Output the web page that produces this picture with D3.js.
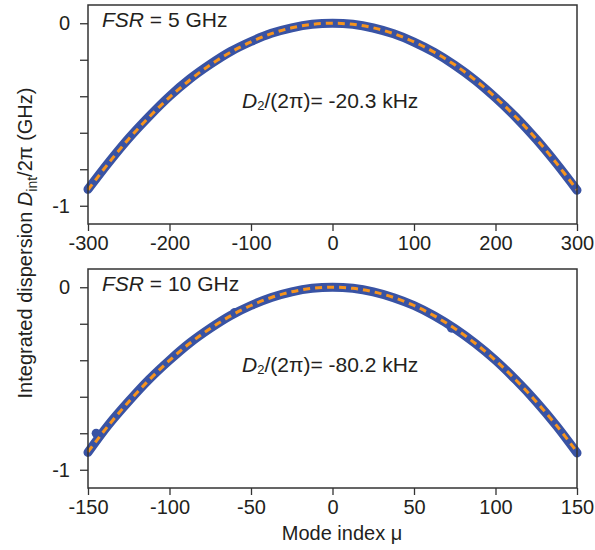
<!DOCTYPE html>
<html>
<head>
  <meta charset="utf-8">
  <title>Integrated dispersion</title>
  <script src="https://cdn.jsdelivr.net/npm/d3@7"></script>
  <style>
    body { margin: 0; background: #fff; }
    text { font-family: "Liberation Sans", Arial, sans-serif; fill: #231f20; }
  </style>
</head>
<body>
<div id="container"></div>
<script>
  // mode index samples and read-off values (GHz)
  var muTop = [-300, -275, -250, -225, -200, -175, -150, -125, -100, -75, -50, -25, 0,
               25, 50, 75, 100, 125, 150, 175, 200, 225, 250, 275, 300];
  var measTop = [-0.910, -0.765, -0.630, -0.510, -0.400, -0.305, -0.225, -0.155, -0.100, -0.055, -0.025, -0.006, 0,
                 -0.006, -0.026, -0.058, -0.103, -0.160, -0.230, -0.312, -0.408, -0.515, -0.636, -0.770, -0.915];
  var fitTop = [-0.913, -0.768, -0.634, -0.514, -0.406, -0.311, -0.228, -0.159, -0.102, -0.057, -0.025, -0.006, 0,
                -0.006, -0.025, -0.057, -0.102, -0.159, -0.228, -0.311, -0.406, -0.514, -0.634, -0.768, -0.913];

  var muBot = [-150, -137.5, -125, -112.5, -100, -87.5, -75, -62.5, -50, -37.5, -25, -12.5, 0,
               12.5, 25, 37.5, 50, 62.5, 75, 87.5, 100, 112.5, 125, 137.5, 150];
  var measBot = [-0.905, -0.755, -0.625, -0.505, -0.400, -0.305, -0.225, -0.155, -0.100, -0.056, -0.025, -0.006, 0,
                 -0.006, -0.025, -0.057, -0.100, -0.157, -0.226, -0.307, -0.400, -0.508, -0.627, -0.760, -0.908];
  var fitBot = [-0.902, -0.758, -0.627, -0.508, -0.401, -0.307, -0.226, -0.157, -0.100, -0.056, -0.025, -0.006, 0,
                -0.006, -0.025, -0.056, -0.100, -0.157, -0.226, -0.307, -0.401, -0.508, -0.627, -0.758, -0.902];
  // a few stray measured modes off the curve
  var muStray = [-145, -60, 73];
  var valStray = [-0.800, -0.138, -0.224];

  var xTicksTop = [-300, -200, -100, 0, 100, 200, 300];
  var xTicksBot = [-150, -100, -50, 0, 50, 100, 150];
  var yTicks = [-1, -0.8, -0.6, -0.4, -0.2, 0];

  var W = 595, H = 550;
  var blue = "#3953a4", orange = "#f7941d", ink = "#333";

  var svg = d3.select("#container").append("svg").attr("width", W).attr("height", H);

  function panel(top, bottom, mu, meas, fit, xTicks, fsr, d2, d2y, stray){
    var x = d3.scaleLinear().domain([xTicks[0], xTicks[xTicks.length-1]]).range([88, 577]);
    var y = d3.scaleLinear().domain([-1.1, 0.1]).range([bottom, top]);
    var g = svg.append("g");

    var xAxis = g.append("g").attr("transform", "translate(0," + bottom + ")")
      .call(d3.axisBottom(x).tickValues(xTicks).tickSize(7).tickPadding(5)
        .tickFormat(function(d){ return String(d); }));
    var yAxis = g.append("g").attr("transform", "translate(88,0)")
      .call(d3.axisLeft(y).tickValues(yTicks).tickSize(8).tickPadding(10)
        .tickFormat(function(d){ return (d === 0 || d === -1) ? String(d) : ""; }));
    [xAxis, yAxis].forEach(function(a){
      a.select(".domain").remove();
      a.selectAll("line").attr("stroke", ink).attr("stroke-width", 1.3);
      a.selectAll("text").style("font-size", "20px").attr("fill", "#231f20");
    });

    var line = d3.line().x(function(d){ return x(d[0]); }).y(function(d){ return y(d[1]); })
      .curve(d3.curveCatmullRom);

    g.append("path").datum(d3.zip(mu, meas)).attr("d", line)
      .attr("fill", "none").attr("stroke", blue).attr("stroke-width", 9)
      .attr("stroke-linecap", "round").attr("stroke-linejoin", "round");
    g.selectAll(".stray").data(d3.zip(stray[0], stray[1])).enter().append("circle")
      .attr("cx", function(d){ return x(d[0]); }).attr("cy", function(d){ return y(d[1]); })
      .attr("r", 4.5).attr("fill", blue);
    g.append("path").datum(d3.zip(mu, fit)).attr("d", line)
      .attr("fill", "none").attr("stroke", orange).attr("stroke-width", 3)
      .attr("stroke-dasharray", "7,5");

    g.append("rect").attr("x", 88).attr("y", top).attr("width", 489).attr("height", bottom - top)
      .attr("fill", "none").attr("stroke", ink).attr("stroke-width", 1.5);

    var t1 = g.append("text").attr("x", 102).attr("y", top + 22).style("font-size", "21px");
    t1.append("tspan").style("font-style", "italic").text("FSR");
    t1.append("tspan").text(" = " + fsr + " GHz");

    var t2 = g.append("text").attr("x", 242).attr("y", d2y).style("font-size", "21px");
    t2.append("tspan").style("font-style", "italic").text("D");
    t2.append("tspan").attr("dy", 2).style("font-size", "13px").text("2");
    t2.append("tspan").attr("dy", -2).text("/(2\u03c0)= -" + d2 + " kHz");
  }

  panel(5, 224, muTop, measTop, fitTop, xTicksTop, 5, "20.3", 108, [[], []]);
  panel(269, 488, muBot, measBot, fitBot, xTicksBot, 10, "80.2", 372, [muStray, valStray]);

  svg.append("text").attr("x", 342).attr("y", 540).attr("text-anchor", "middle")
    .style("font-size", "20px").text("Mode index \u03bc");

  var yl = svg.append("text").attr("transform", "translate(32,243) rotate(-90)")
    .attr("text-anchor", "middle").style("font-size", "20px");
  yl.append("tspan").text("Integrated dispersion ");
  yl.append("tspan").style("font-style", "italic").text("D");
  yl.append("tspan").attr("dy", 5).style("font-size", "14px").text("int");
  yl.append("tspan").attr("dy", -5).text("/2\u03c0 (GHz)");
</script>
</body>
</html>
